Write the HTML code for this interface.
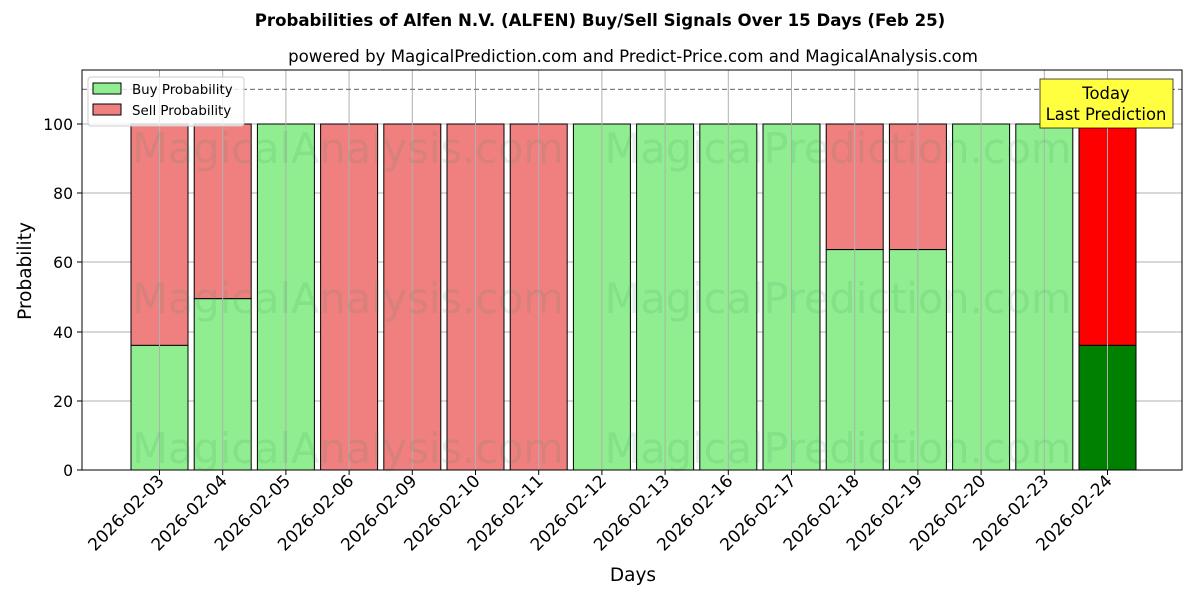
<!DOCTYPE html>
<html><head><meta charset="utf-8"><style>body{margin:0;background:#fff}svg{display:block;font-family:"DejaVu Sans","Liberation Sans",sans-serif}</style></head><body>
<svg width="1200" height="600" xmlns="http://www.w3.org/2000/svg">
<rect width="1200" height="600" fill="#fff"/>
<text x="600" y="26" text-anchor="middle" font-size="16.6" font-weight="bold">Probabilities of Alfen N.V. (ALFEN) Buy/Sell Signals Over 15 Days (Feb 25)</text>
<text x="633" y="62" text-anchor="middle" font-size="16.6">powered by MagicalPrediction.com and Predict-Price.com and MagicalAnalysis.com</text>
<g stroke="#b0b0b0" stroke-width="1">
<line x1="82" x2="1182" y1="470" y2="470"/><line x1="82" x2="1182" y1="401" y2="401"/><line x1="82" x2="1182" y1="332" y2="332"/><line x1="82" x2="1182" y1="262" y2="262"/><line x1="82" x2="1182" y1="193" y2="193"/><line x1="82" x2="1182" y1="124" y2="124"/>
</g>
<g fill="#000" stroke="#000" stroke-width="1">
<g fill="#f08080">
<rect x="131" y="124" width="57" height="221.4"/><rect x="194.2" y="124" width="57" height="174.7"/>
<rect x="320.6" y="124" width="57" height="346"/><rect x="383.8" y="124" width="57" height="346"/><rect x="447" y="124" width="57" height="346"/><rect x="510.2" y="124" width="57" height="346"/>
<rect x="826.2" y="124" width="57" height="125.6"/><rect x="889.4" y="124" width="57" height="125.6"/>
</g>
<g fill="#90ee90">
<rect x="131" y="345.4" width="57" height="124.6"/><rect x="194.2" y="298.7" width="57" height="171.3"/>
<rect x="257.4" y="124" width="57" height="346"/>
<rect x="573.4" y="124" width="57" height="346"/><rect x="636.6" y="124" width="57" height="346"/><rect x="699.8" y="124" width="57" height="346"/><rect x="763" y="124" width="57" height="346"/>
<rect x="826.2" y="249.6" width="57" height="220.4"/><rect x="889.4" y="249.6" width="57" height="220.4"/>
<rect x="952.6" y="124" width="57" height="346"/><rect x="1015.8" y="124" width="57" height="346"/>
</g>
<rect x="1079" y="124" width="57" height="221.4" fill="#ff0000"/>
<rect x="1079" y="345.4" width="57" height="124.6" fill="#008000"/>
</g>
<g stroke="#b0b0b0" stroke-width="1">
<line x1="159.5" x2="159.5" y1="70" y2="470"/><line x1="222.7" x2="222.7" y1="70" y2="470"/><line x1="285.9" x2="285.9" y1="70" y2="470"/><line x1="349.1" x2="349.1" y1="70" y2="470"/><line x1="412.3" x2="412.3" y1="70" y2="470"/><line x1="475.5" x2="475.5" y1="70" y2="470"/><line x1="538.7" x2="538.7" y1="70" y2="470"/><line x1="601.9" x2="601.9" y1="70" y2="470"/><line x1="665.1" x2="665.1" y1="70" y2="470"/><line x1="728.3" x2="728.3" y1="70" y2="470"/><line x1="791.5" x2="791.5" y1="70" y2="470"/><line x1="854.7" x2="854.7" y1="70" y2="470"/><line x1="917.9" x2="917.9" y1="70" y2="470"/><line x1="981.1" x2="981.1" y1="70" y2="470"/><line x1="1044.3" x2="1044.3" y1="70" y2="470"/><line x1="1107.5" x2="1107.5" y1="70" y2="470"/>
</g>
<g font-size="41.5" fill="#2e8b57" fill-opacity="0.13" text-anchor="middle">
<text x="348" y="163">MagicalAnalysis.com</text><text x="838" y="163">MagicalPrediction.com</text>
<text x="348" y="313">MagicalAnalysis.com</text><text x="838" y="313">MagicalPrediction.com</text>
<text x="348" y="463">MagicalAnalysis.com</text><text x="838" y="463">MagicalPrediction.com</text>
</g>
<line x1="82" x2="1182" y1="89.4" y2="89.4" stroke="#808080" stroke-width="1.3" stroke-dasharray="5,3"/>
<rect x="82" y="70" width="1100" height="400" fill="none" stroke="#000" stroke-width="1"/>
<g stroke="#000"><line x1="77" x2="82" y1="470" y2="470"/><line x1="77" x2="82" y1="401" y2="401"/><line x1="77" x2="82" y1="332" y2="332"/><line x1="77" x2="82" y1="262" y2="262"/><line x1="77" x2="82" y1="193" y2="193"/><line x1="77" x2="82" y1="124" y2="124"/></g>
<g font-size="15.6" text-anchor="end"><text x="73" y="476">0</text><text x="73" y="407">20</text><text x="73" y="338">40</text><text x="73" y="268">60</text><text x="73" y="199">80</text><text x="73" y="130">100</text></g>
<text transform="translate(31,271) rotate(-90)" text-anchor="middle" font-size="18.5">Probability</text>
<text x="633" y="581" text-anchor="middle" font-size="18.5">Days</text>
<g font-size="17" text-anchor="end">
<text transform="translate(165,482) rotate(-45)">2026-02-03</text><text transform="translate(228.2,482) rotate(-45)">2026-02-04</text><text transform="translate(291.4,482) rotate(-45)">2026-02-05</text><text transform="translate(354.6,482) rotate(-45)">2026-02-06</text><text transform="translate(417.8,482) rotate(-45)">2026-02-09</text><text transform="translate(481,482) rotate(-45)">2026-02-10</text><text transform="translate(544.2,482) rotate(-45)">2026-02-11</text><text transform="translate(607.4,482) rotate(-45)">2026-02-12</text><text transform="translate(670.6,482) rotate(-45)">2026-02-13</text><text transform="translate(733.8,482) rotate(-45)">2026-02-16</text><text transform="translate(797,482) rotate(-45)">2026-02-17</text><text transform="translate(860.2,482) rotate(-45)">2026-02-18</text><text transform="translate(923.4,482) rotate(-45)">2026-02-19</text><text transform="translate(986.6,482) rotate(-45)">2026-02-20</text><text transform="translate(1049.8,482) rotate(-45)">2026-02-23</text><text transform="translate(1113,482) rotate(-45)">2026-02-24</text>
</g>
<g stroke="#000"><line x1="159.5" x2="159.5" y1="470" y2="475"/><line x1="222.7" x2="222.7" y1="470" y2="475"/><line x1="285.9" x2="285.9" y1="470" y2="475"/><line x1="349.1" x2="349.1" y1="470" y2="475"/><line x1="412.3" x2="412.3" y1="470" y2="475"/><line x1="475.5" x2="475.5" y1="470" y2="475"/><line x1="538.7" x2="538.7" y1="470" y2="475"/><line x1="601.9" x2="601.9" y1="470" y2="475"/><line x1="665.1" x2="665.1" y1="470" y2="475"/><line x1="728.3" x2="728.3" y1="470" y2="475"/><line x1="791.5" x2="791.5" y1="470" y2="475"/><line x1="854.7" x2="854.7" y1="470" y2="475"/><line x1="917.9" x2="917.9" y1="470" y2="475"/><line x1="981.1" x2="981.1" y1="470" y2="475"/><line x1="1044.3" x2="1044.3" y1="470" y2="475"/><line x1="1107.5" x2="1107.5" y1="470" y2="475"/></g>
<rect x="1040" y="79" width="133" height="49" fill="#ffff40" stroke="#000" stroke-opacity="0.7"/>
<text x="1106" y="99" text-anchor="middle" font-size="16.4">Today</text>
<text x="1106" y="120" text-anchor="middle" font-size="16.4">Last Prediction</text>
<rect x="88" y="77" width="156" height="49" rx="3" fill="#fff" fill-opacity="0.8" stroke="#ccc"/>
<rect x="93" y="83" width="28" height="11" fill="#90ee90" stroke="#000"/>
<rect x="93" y="104" width="28" height="11" fill="#f08080" stroke="#000"/>
<text x="132" y="94" font-size="13.4">Buy Probability</text>
<text x="132" y="115" font-size="13.4">Sell Probability</text>
</svg>
</body></html>
